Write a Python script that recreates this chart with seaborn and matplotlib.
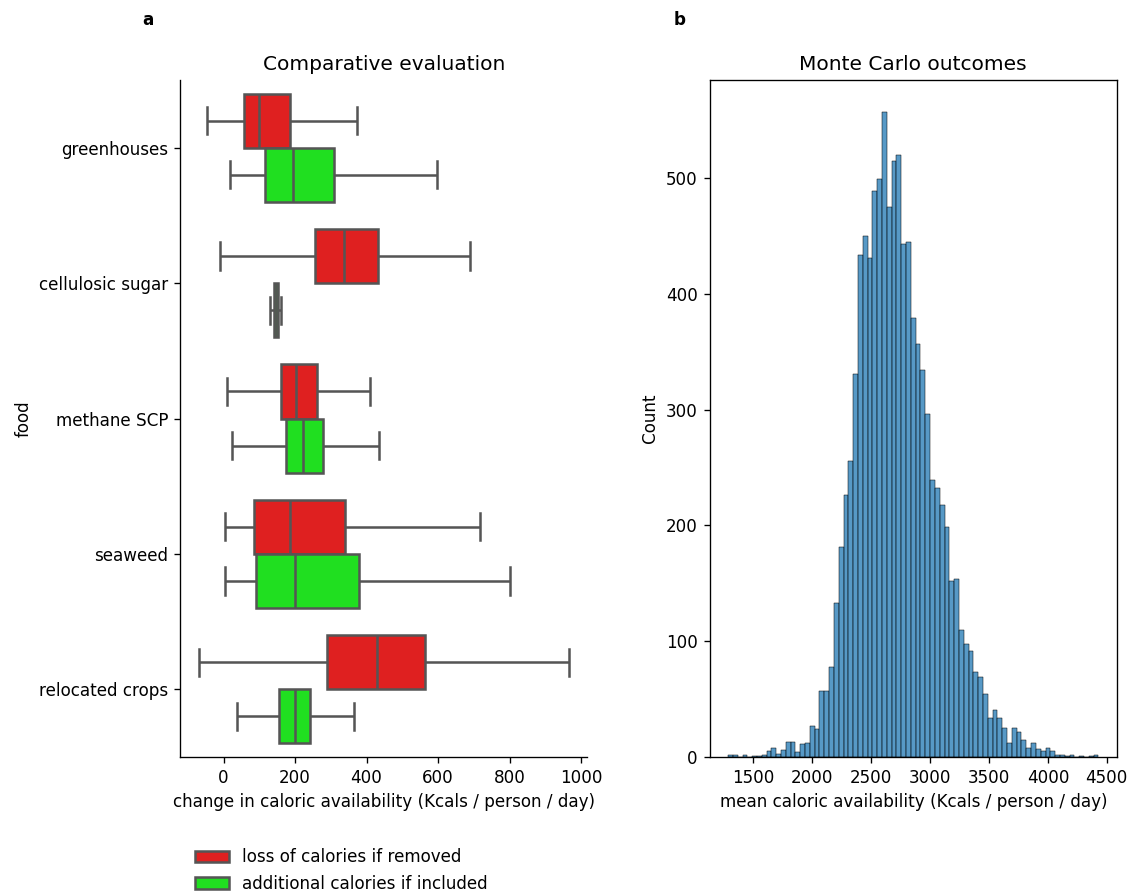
import numpy as np
import pandas as pd
import matplotlib
matplotlib.use("Agg")
import matplotlib.pyplot as plt
import seaborn as sns

# ---------------- data ----------------
foods = ["greenhouses", "cellulosic sugar", "methane SCP", "seaweed", "relocated crops"]
scenario_labels = ["loss of calories if removed", "additional calories if included"]

# five-number summaries per food: whisker low, Q1, median, Q3, whisker high
removed_stats = [
    [-47, 56, 99, 185, 373],
    [-9, 255, 336, 432, 689],
    [9, 162, 202, 260, 411],
    [5, 84, 185, 340, 718],
    [-70, 289, 430, 563, 966],
]
included_stats = [
    [19, 115, 195, 308, 596],
    [130, 140, 146, 152, 160],
    [23, 175, 222, 279, 434],
    [5, 92, 199, 378, 802],
    [37, 155, 199, 242, 364],
]

# Monte Carlo histogram (bin start, bin width, counts per bin)
hist_start = 1285.0
hist_width = 40.83
hist_counts = [
    2, 2, 0, 2, 0, 1, 1, 2, 5, 8,
    3, 6, 13, 13, 4, 11, 12, 27, 24, 57,
    57, 78, 133, 181, 226, 256, 331, 434, 450, 431,
    489, 499, 557, 475, 515, 520, 443, 445, 379, 357,
    334, 296, 239, 232, 218, 199, 152, 154, 110, 98,
    92, 73, 69, 54, 34, 41, 34, 25, 12, 25,
    22, 15, 8, 12, 7, 5, 8, 5, 2, 2,
    1, 2, 0, 1, 0, 1, 2,
]

# ---------------- figure ----------------
DPI = 121
fig, (ax1, ax2) = plt.subplots(1, 2, figsize=(1128 / DPI, 891 / DPI), dpi=DPI)
fig.subplots_adjust(left=0.1596, right=0.9902, top=0.9102, bottom=0.1504, wspace=0.30)

rows = []
for food, r, g in zip(foods, removed_stats, included_stats):
    for v in r:
        rows.append((food, v, scenario_labels[0]))
    for v in g:
        rows.append((food, v, scenario_labels[1]))
df = pd.DataFrame(rows, columns=["food", "value", "scenario"])

sns.boxplot(data=df, x="value", y="food", hue="scenario", order=foods,
            hue_order=scenario_labels, palette=["red", "lime"],
            whis=(0, 100), showfliers=False, linewidth=1.5,
            linecolor="#555555", ax=ax1)
sns.despine(ax=ax1)
ax1.set_title("Comparative evaluation")
ax1.set_xlabel("change in caloric availability (Kcals / person / day)")
ax1.set_ylabel("food")
handles, labels = ax1.get_legend_handles_labels()
ax1.legend(handles, labels, loc="upper left", bbox_to_anchor=(0.02, -0.125),
           frameon=False, borderaxespad=0)

n_bins = len(hist_counts)
hist_end = hist_start + hist_width * n_bins
centers = hist_start + hist_width * (np.arange(n_bins) + 0.5)
hdf = pd.DataFrame({"value": centers, "count": hist_counts})
sns.histplot(data=hdf, x="value", weights="count", binwidth=hist_width,
             binrange=(hist_start, hist_end), ax=ax2)
ax2.set_title("Monte Carlo outcomes")
ax2.set_xlabel("mean caloric availability (Kcals / person / day)")
ax2.set_ylabel("Count")

fig.text(148 / 1128, 1 - 20 / 891, "a", weight="bold", ha="center", va="center")
fig.text(680 / 1128, 1 - 20 / 891, "b", weight="bold", ha="center", va="center")

fig.savefig("out.png", dpi=DPI)
